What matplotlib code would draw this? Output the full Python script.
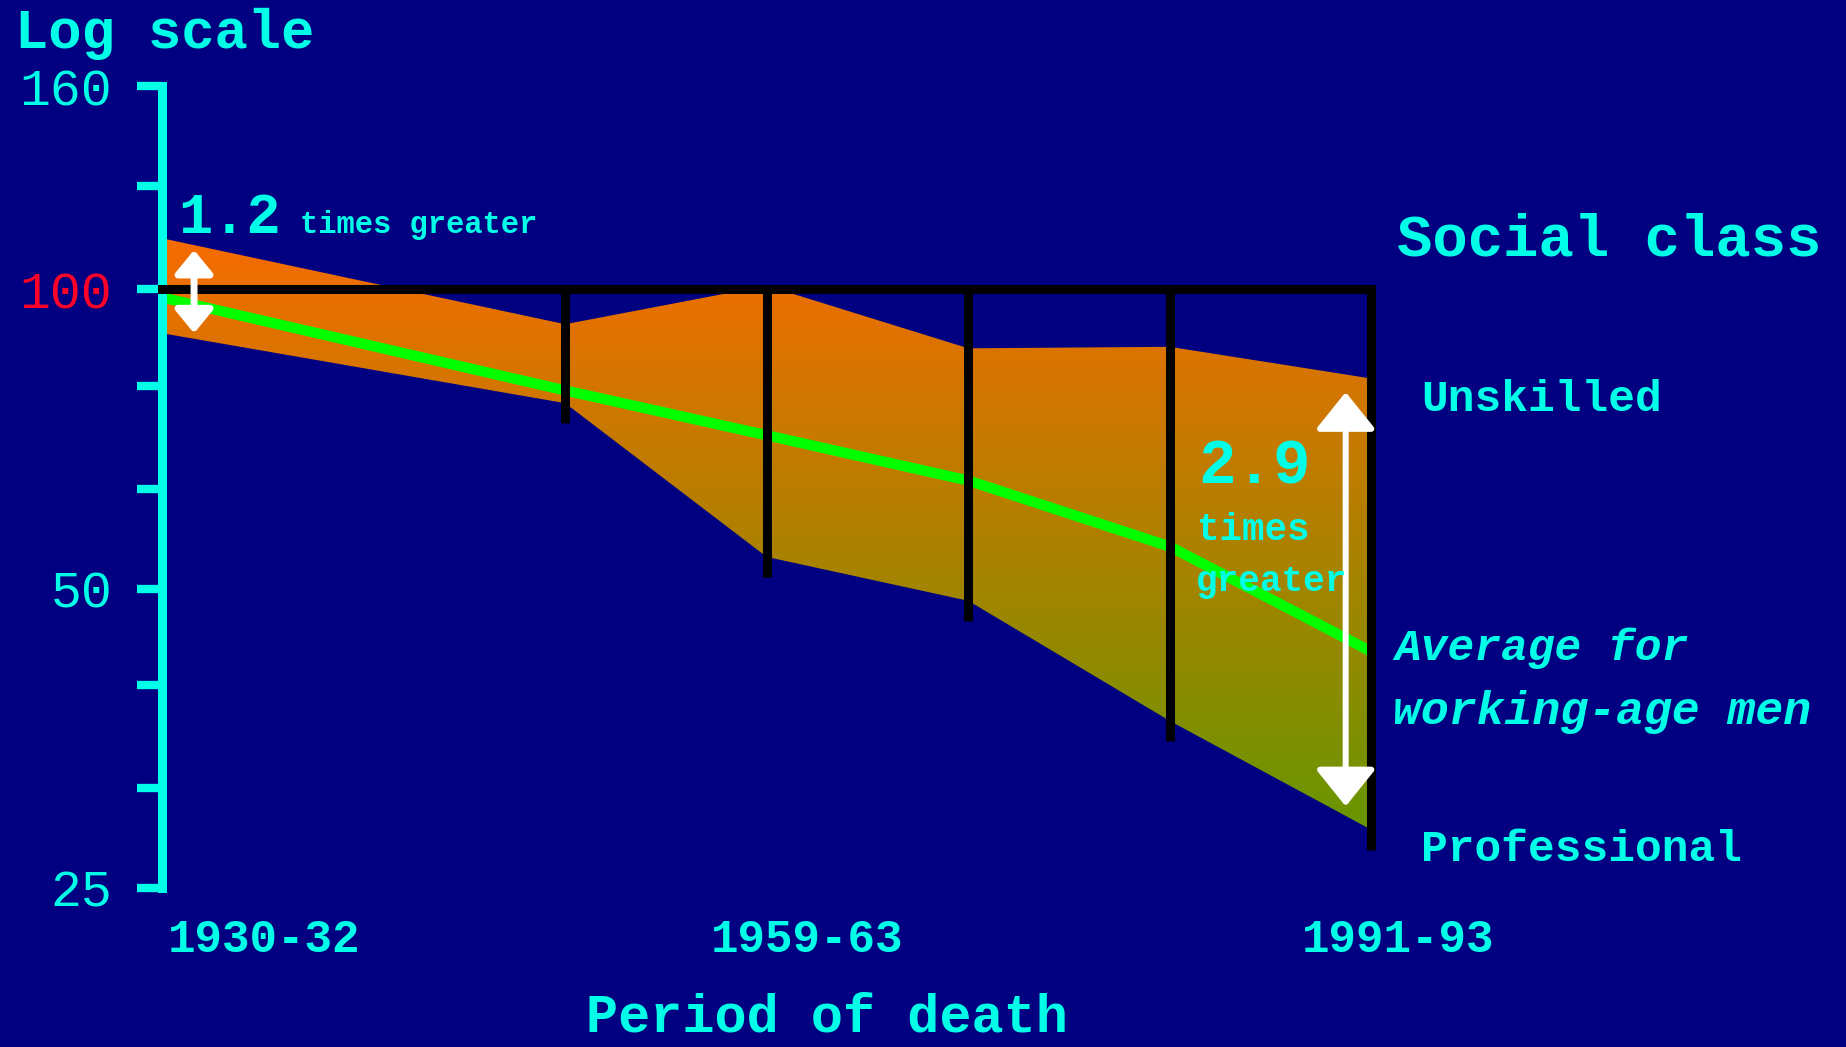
import numpy as np
import matplotlib
matplotlib.use("Agg")
import matplotlib.pyplot as plt
from matplotlib.ticker import NullLocator

# values (log scale, 100 = average for all men)
period_x = [0, 2, 3, 4, 5, 6]          # 1930-32 ... 1991-93 (spacing as drawn)
unskilled = [112.5, 92.2, 100.8, 87.2, 87.5, 81.3]
professional = [90.3, 76.8, 53.8, 48.6, 36.8, 28.6]
average = [98.1, 79.1, 71.3, 64.2, 55.1, 43.2]

ytick_vals = [160, 127, 100, 80, 63, 50, 40, 31.5, 25]
ytick_labels = ["160", "", "100", "", "", "50", "", "", "25"]
period_labels = ["1930-32", "1959-63", "1991-93"]

navy = "#000080"
cyan = "#00FFE6"
red = "#FF0028"
green = "#00FF00"
font = "Liberation Mono"

W, H = 1846, 1047
fig = plt.figure(figsize=(W / 100, H / 100), dpi=100, facecolor=navy)
ax = fig.add_axes([0, 0, 1, 1], facecolor=navy)
ax.set_yscale("log")


def px_text(x, y, s, size, **kw):
    # place text by pixel position (baseline, left)
    fig.text(x / W, 1 - y / H, s, fontsize=size, color=cyan, family=font,
             fontweight="bold", ha="left", va="baseline", **kw)


# gradient band between unskilled and professional
y_lo, y_hi = min(professional), max(unskilled)
top_c = np.array([247, 107, 0]) / 255
bot_c = np.array([104, 150, 0]) / 255
rows = np.linspace(y_lo, y_hi, 600)
t = (np.log(rows) - np.log(y_lo)) / (np.log(y_hi) - np.log(y_lo))
grad = bot_c + t[:, None] * (top_c - bot_c)
img = ax.imshow(grad[:, None, :], extent=(period_x[0], period_x[-1], y_lo, y_hi),
                origin="lower", aspect="auto", interpolation="bilinear", zorder=0.5)
band = ax.fill_between(period_x, professional, unskilled, facecolor="none", lw=0)
img.set_clip_path(band.get_paths()[0], ax.transData)

# average line
ax.plot(period_x, average, color=green, lw=7.5, solid_capstyle="butt", zorder=1.5)

# black frame: line at 100 plus drops at each period
ax.plot([period_x[0], period_x[-1]], [100, 100], color="black", lw=6.5,
        solid_capstyle="projecting", zorder=3)
ax.vlines(period_x[1:], [p * 0.955 for p in professional[1:]], 100,
          colors="black", lw=6.5, capstyle="butt", zorder=3)


def double_arrow(x, lo, hi, hl, hw, lw):
    ax.annotate("", xy=(x, hi), xytext=(x, lo),
                arrowprops=dict(arrowstyle=f"<|-|>,head_length={hl},head_width={hw}",
                                mutation_scale=1, color="white", lw=lw,
                                shrinkA=0, shrinkB=0),
                zorder=4)


double_arrow(0.159, professional[0], unskilled[0] * 0.973, 14, 11.5, 5)
double_arrow(5.872, professional[-1] * 1.056, unskilled[-1] * 0.969, 23, 18.5, 4.3)

# axes
ax.set_xlim(-0.8036, 8.354)
ax.set_ylim(17.30, 195.3)
for s in ["top", "right", "bottom"]:
    ax.spines[s].set_visible(False)
ax.spines["left"].set_position(("data", 0))
ax.spines["left"].set_bounds(25, 160)
ax.spines["left"].set_color(cyan)
ax.spines["left"].set_linewidth(6.5)
ax.spines["left"].set_zorder(2.5)

ax.set_yticks(ytick_vals)
ax.set_yticklabels(ytick_labels)
ax.yaxis.set_minor_locator(NullLocator())
ax.tick_params(axis="y", direction="out", length=18, width=6, color=cyan,
               labelcolor=cyan, labelsize=37, pad=18, labelfontfamily=font)
ax.get_yticklabels()[2].set_color(red)
ax.tick_params(axis="x", bottom=False, labelbottom=False)

# texts
px_text(15, 48, "Log scale", 40)
px_text(1397, 256, "Social class", 42.5)
px_text(1421, 411, "Unskilled", 32)
px_text(1394, 660, "Average for", 32, style="italic")
px_text(1393, 724, "working-age men", 33.5, style="italic")
px_text(1421, 861, "Professional", 32)

px_text(178, 233, "1.2", 41)
px_text(300, 233, "times greater", 22)
px_text(1198, 484, "2.9", 45)
px_text(1197, 540, "times", 27)
px_text(1196, 591, "greater", 26)

for lx, lab in zip([168, 711, 1302], period_labels):
    px_text(lx, 952, lab, 33)
px_text(586, 1032, "Period of death", 38.5)

fig.savefig("out.png", dpi=100, facecolor=navy)
